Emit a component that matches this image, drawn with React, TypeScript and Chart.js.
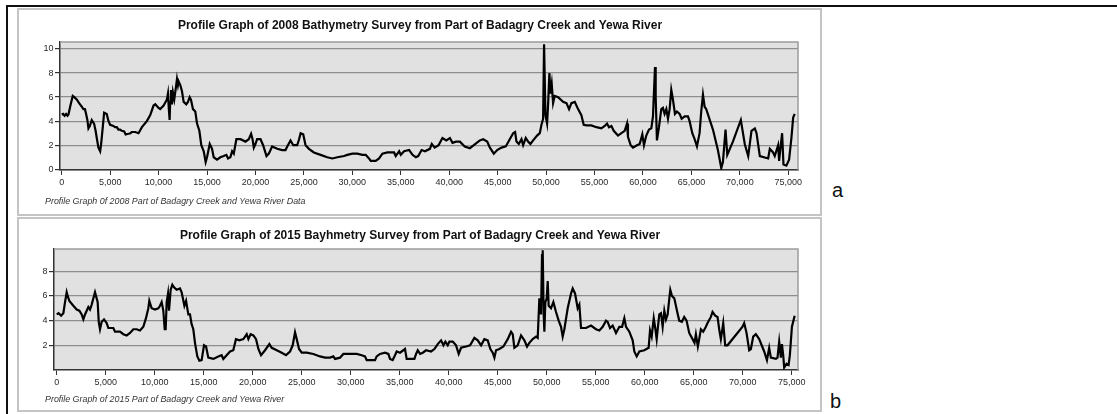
import React, { useEffect, useRef } from "react";
import { Chart, registerables } from "chart.js";

Chart.register(...registerables);

// Along-channel distance (m) and depth (m) for the 2008 survey profile
const DIST_2008 = [
  0, 150, 300, 450, 600, 700, 900, 1140, 1300, 1550, 1800, 2070, 2240, 2400, 2520, 2650, 2760, 2900, 3100, 3340,
  3500, 3620, 3790, 3970, 4070, 4240, 4380, 4650, 4830, 5000, 5340, 5500, 5690, 5850, 6030, 6200, 6450, 6600, 6900, 7100,
  7240, 7590, 7930, 8280, 8790, 9140, 9480, 9660, 10000, 10170, 10520, 10860, 10970, 11060, 11140, 11200, 11280, 11380, 11480, 11620,
  11790, 11900, 12000, 12070, 12240, 12410, 12590, 12860, 13030, 13210, 13340, 13550, 13790, 13970, 14210, 14410, 14660, 14860, 15000, 15280,
  15520, 15690, 16030, 16380, 16720, 17000, 17170, 17410, 17590, 17760, 18030, 18450, 18970, 19310, 19550, 19700, 19830, 20000, 20170, 20520,
  20790, 21140, 21380, 21720, 22240, 22760, 23100, 23280, 23620, 23900, 24310, 24500, 24660, 24930, 25170, 25520, 26030, 26720, 27410, 27930,
  28450, 29140, 29480, 30000, 30520, 31030, 31380, 31720, 31900, 32410, 32760, 33100, 33620, 34310, 34480, 34830, 35000, 35340, 35860, 36210,
  36550, 36800, 37150, 37500, 38000, 38200, 38500, 38900, 39300, 39700, 40070, 40340, 40690, 41100, 41600, 42130, 42540, 43160, 43500, 43920,
  44200, 44600, 44950, 45400, 45840, 46250, 46600, 46800, 46940, 47180, 47460, 47630, 47900, 48140, 48380, 48660, 49070, 49350, 49520, 49690,
  49790, 49930, 50100, 50210, 50340, 50450, 50580, 50720, 50890, 51240, 51750, 52100, 52370, 52610, 52960, 53300, 53640, 53880, 54160, 54670,
  55190, 55700, 56050, 56290, 56490, 56740, 56980, 57420, 57770, 58110, 58350, 58450, 58730, 58970, 59380, 59660, 59930, 60100, 60340, 60620,
  60860, 61030, 61240, 61310, 61440, 61650, 61890, 62060, 62230, 62410, 62580, 62750, 62920, 63090, 63300, 63500, 63780, 63990, 64300, 64640,
  64810, 65090, 65330, 65570, 65840, 66010, 66190, 66360, 66530, 67220, 67730, 68080, 68250, 68520, 68700, 69280, 70100, 70516, 70860, 71200,
  71545, 71720, 72060, 72920, 73090, 73430, 73600, 73950, 74050, 74360, 74500, 74800, 75080, 75320, 75500, 75660,
];
const DEPTH_2008 = [
  4.55, 4.6, 4.45, 4.6, 4.45, 4.55, 5.3, 6.1, 6.0, 5.8, 5.5, 5.2, 5.0, 5.0, 4.6, 4.1, 3.4, 3.6, 4.1, 3.8,
  3.2, 2.6, 1.8, 1.5, 2.1, 3.5, 4.7, 4.6, 4.0, 3.7, 3.6, 3.5, 3.5, 3.3, 3.3, 3.2, 3.15, 2.9, 2.95, 3.0,
  3.1, 3.1, 3.0, 3.5, 4.0, 4.5, 5.3, 5.4, 5.1, 5.0, 5.3, 5.8, 6.3, 5.0, 4.1, 5.6, 6.6, 5.4, 6.4, 5.8,
  6.8, 7.5, 7.0, 7.3, 7.0, 6.5, 5.6, 5.4, 5.6, 6.0, 5.8, 5.0, 4.8, 3.8, 3.2, 2.0, 1.5, 0.6, 1.0, 2.1,
  1.7, 1.0, 0.8, 1.0, 1.1, 1.2, 0.9, 1.0, 1.5, 1.3, 2.5, 2.5, 2.3, 2.5, 2.95, 2.5, 1.8, 2.1, 2.5, 2.5,
  2.0, 1.1, 1.3, 1.9, 1.7, 1.6, 1.6, 1.9, 2.4, 2.0, 2.0, 2.5, 3.0, 2.9, 2.0, 1.7, 1.4, 1.2, 1.0, 0.9,
  1.0, 1.1, 1.2, 1.3, 1.3, 1.2, 1.2, 0.9, 0.7, 0.7, 0.9, 1.3, 1.4, 1.4, 1.1, 1.5, 1.2, 1.5, 1.6, 1.2,
  1.0, 1.1, 1.6, 1.5, 1.7, 2.1, 1.8, 2.0, 2.6, 2.4, 2.6, 2.2, 2.3, 2.3, 1.9, 1.75, 2.0, 2.4, 2.5, 2.3,
  1.8, 1.3, 1.6, 1.8, 1.9, 2.5, 3.0, 3.1, 2.3, 2.1, 2.5, 2.0, 2.6, 2.3, 2.1, 2.4, 2.8, 3.0, 3.7, 4.2,
  10.4, 4.5, 3.8, 5.5, 8.0, 6.3, 7.1, 5.5, 6.1, 6.0, 5.6, 5.5, 5.0, 5.5, 5.6, 5.0, 4.5, 3.7, 3.65, 3.65,
  3.5, 3.4, 3.6, 3.8, 3.5, 3.6, 3.2, 2.8, 3.0, 3.2, 3.8, 2.7, 2.0, 1.8, 2.0, 2.1, 2.9, 2.0, 2.8, 3.3,
  3.4, 4.4, 8.5, 6.0, 2.4, 3.5, 5.0, 5.1, 4.6, 5.0, 4.2, 5.0, 6.6, 5.8, 4.6, 4.8, 4.6, 4.2, 4.4, 4.4,
  4.0, 3.0, 2.5, 1.9, 3.0, 4.8, 6.2, 5.2, 5.0, 3.3, 1.6, 0.1, 0.6, 3.3, 1.2, 2.3, 4.1, 2.05, 1.1, 3.2,
  3.4, 3.0, 1.1, 0.9, 1.7, 1.4, 1.1, 2.0, 0.7, 3.0, 0.4, 0.3, 0.8, 2.6, 4.3, 4.6,
];

// Along-channel distance (m) and depth (m) for the 2015 survey profile
const DIST_2015 = [
  0, 200, 450, 680, 850, 1020, 1120, 1290, 1700, 2040, 2310, 2550, 2720, 2890, 3230, 3400, 3570, 3740, 3910, 4080,
  4180, 4290, 4420, 4590, 4830, 5100, 5270, 5780, 5950, 6460, 6800, 7140, 7480, 7820, 8160, 8500, 8840, 9110, 9350, 9450,
  9690, 10030, 10370, 10540, 10710, 10880, 11020, 11120, 11220, 11360, 11460, 11630, 11800, 11970, 12240, 12580, 12750, 13030, 13200, 13430,
  13600, 13770, 13940, 14110, 14350, 14560, 14790, 15030, 15240, 15470, 15990, 16490, 16830, 17000, 17340, 17690, 18020, 18290, 18640, 19050,
  19390, 19560, 19790, 20070, 20340, 20580, 20850, 21260, 21700, 21940, 22450, 22960, 23400, 23810, 24080, 24320, 24490, 24730, 25000, 25510,
  26190, 26870, 27380, 27890, 28230, 28400, 28910, 29250, 29930, 30610, 31120, 31460, 31630, 32140, 32480, 32650, 32990, 33500, 33840, 34010,
  34280, 34520, 34690, 35030, 35370, 35540, 35710, 35990, 36500, 36670, 36840, 37080, 37350, 37690, 38200, 38540, 38880, 39220, 39460, 39660,
  39900, 40070, 40410, 40750, 41020, 41260, 41770, 42180, 42620, 42960, 43300, 43640, 43980, 44250, 44490, 44660, 44830, 45170, 45580, 46020,
  46360, 46530, 46700, 47040, 47380, 47720, 47990, 48230, 48570, 48910, 49080, 49180, 49250, 49420, 49520, 49590, 49690, 49760, 49860, 50000,
  50100, 50200, 50440, 50680, 50950, 51220, 51460, 51630, 51800, 52140, 52480, 52650, 52890, 53160, 53330, 53500, 54010, 54520, 55030, 55370,
  55710, 56050, 56220, 56460, 56730, 57070, 57410, 57690, 57920, 58090, 58430, 58770, 58940, 59180, 59450, 59960, 60400, 60540, 60710, 60920,
  61090, 61220, 61390, 61490, 61660, 61830, 62000, 62170, 62340, 62510, 62610, 62780, 63020, 63290, 63520, 63790, 64030, 64270, 64540, 64880,
  65080, 65220, 65420, 65560, 65730, 65970, 66240, 66410, 66750, 66920, 67190, 67430, 67600, 67770, 68010, 68210, 68450, 69980, 70150, 70390,
  70660, 70830, 71070, 71340, 71680, 72190, 72470, 72700, 72870, 73380, 73550, 73720, 73890, 74000, 74130, 74230, 74470, 74680, 74810, 75020,
  75300,
];
const DEPTH_2015 = [
  4.5, 4.6, 4.4, 4.6, 5.5, 6.3, 6.0, 5.6, 5.2, 4.9, 4.8, 4.5, 4.1, 4.5, 5.1, 4.9, 5.3, 5.8, 6.3, 5.8,
  5.5, 3.9, 3.3, 3.9, 4.1, 3.8, 3.4, 3.4, 3.1, 3.1, 2.9, 2.8, 3.0, 3.3, 3.3, 3.2, 3.5, 4.2, 5.0, 5.6,
  5.0, 4.9, 5.0, 5.2, 5.5, 4.8, 3.3, 3.3, 5.5, 6.2, 4.8, 6.5, 6.9, 6.7, 6.5, 6.6, 6.3, 5.2, 5.6, 4.5,
  4.5, 3.7, 3.3, 2.2, 1.1, 0.75, 0.8, 2.0, 1.9, 1.0, 0.9, 1.1, 1.2, 0.9, 1.2, 1.5, 1.6, 2.5, 2.4, 2.5,
  2.9, 2.5, 2.9, 2.8, 2.5, 1.7, 1.2, 1.6, 2.1, 1.8, 1.6, 1.4, 1.2, 1.5, 2.0, 3.05, 2.5, 1.7, 1.4, 1.4,
  1.3, 1.1, 1.0, 1.0, 1.1, 0.9, 1.0, 1.3, 1.3, 1.3, 1.2, 1.1, 0.8, 0.8, 0.8, 1.1, 1.3, 1.4, 1.3, 0.9,
  0.8, 1.2, 1.5, 1.4, 1.6, 1.7, 0.9, 0.9, 0.9, 1.3, 1.6, 1.3, 1.4, 1.6, 1.5, 1.7, 2.1, 2.4, 2.0, 2.3,
  2.0, 2.3, 2.3, 2.0, 1.3, 1.8, 1.9, 2.0, 2.6, 2.4, 2.0, 2.5, 2.4, 1.7, 1.4, 1.0, 1.6, 1.7, 1.9, 2.5,
  3.1, 2.9, 1.8, 2.0, 2.8, 2.4, 1.9, 2.2, 2.5, 2.7, 2.6, 4.5, 5.8, 4.5, 9.3, 9.7, 4.5, 3.1, 5.5, 5.8,
  7.2, 5.2, 5.0, 5.5, 4.7, 4.0, 3.5, 2.7, 3.3, 5.0, 6.2, 6.6, 6.2, 5.0, 5.3, 3.4, 3.4, 3.6, 3.3, 3.2,
  3.5, 4.0, 3.9, 3.4, 3.6, 3.0, 3.5, 3.5, 4.2, 3.5, 3.1, 2.4, 1.5, 1.1, 1.5, 1.6, 1.8, 3.2, 2.7, 4.2,
  3.3, 2.5, 3.8, 4.5, 4.6, 3.5, 4.8, 4.1, 4.5, 5.8, 6.5, 6.0, 5.8, 4.8, 4.0, 3.9, 4.3, 4.0, 3.0, 2.5,
  2.2, 2.9, 1.9, 2.5, 3.3, 3.1, 3.5, 3.8, 4.3, 4.7, 4.4, 4.3, 3.3, 2.5, 3.8, 2.0, 2.0, 3.5, 3.8, 3.0,
  1.6, 1.7, 2.7, 2.9, 2.5, 1.5, 0.8, 1.8, 1.0, 0.9, 1.0, 2.3, 1.0, 2.1, 1.2, 0.2, 0.5, 0.4, 1.2, 3.5,
  4.4,
];

const X_TICKS = [0, 5000, 10000, 15000, 20000, 25000, 30000, 35000, 40000, 45000, 50000, 55000, 60000, 65000, 70000, 75000];
const Y_TICKS_2008 = [0, 2, 4, 6, 8, 10];
const Y_TICKS_2015 = [2, 4, 6, 8];

const FONT = "'Liberation Sans', Arial, Helvetica, sans-serif";
const TICK_FONT = "'Liberation Sans Narrow', 'Arial Narrow', 'Liberation Sans', Arial, sans-serif";

// Grey plot background plus the light top/right edges of the plot box
const plotFrame = {
  id: "plotFrame",
  beforeDraw(chart: any) {
    const { ctx, chartArea } = chart;
    const { left, top, right, bottom } = chartArea;
    ctx.save();
    ctx.fillStyle = "#e1e1e1";
    ctx.fillRect(left, top, right - left, bottom - top);
    ctx.restore();
  },
  afterDraw(chart: any) {
    const { ctx, chartArea } = chart;
    const { left, top, right, bottom } = chartArea;
    ctx.save();
    ctx.strokeStyle = "#9c9c9c";
    ctx.lineWidth = 1.5;
    ctx.beginPath();
    ctx.moveTo(left, top);
    ctx.lineTo(right, top);
    ctx.lineTo(right, bottom);
    ctx.stroke();
    ctx.restore();
  },
};

// Heading above the plot and italic caption underneath it
const panelText = {
  id: "panelText",
  afterDraw(chart: any, _args: any, opts: any) {
    const { ctx } = chart;
    ctx.save();
    ctx.fillStyle = "#111";
    ctx.font = `bold 12px ${FONT}`;
    ctx.textAlign = "center";
    ctx.textBaseline = "alphabetic";
    ctx.fillText(opts.title, opts.titleX, opts.titleY);
    ctx.font = `italic 8.9px ${FONT}`;
    ctx.fillStyle = "#333";
    ctx.textAlign = "left";
    ctx.fillText(opts.footer, opts.footerX, opts.footerY);
    ctx.restore();
  },
};

type PanelProps = {
  dist: number[];
  depth: number[];
  yTicks: number[];
  xMin: number;
  xMax: number;
  yMin: number;
  yMax: number;
  width: number;
  height: number;
  axisW: number;
  axisH: number;
  padTop: number;
  padRight: number;
  title: string;
  footer: string;
  titleY: number;
  footerY: number;
};

function ProfilePanel(p: PanelProps) {
  const ref = useRef<HTMLCanvasElement | null>(null);

  useEffect(() => {
    if (!ref.current) return;
    const points = p.dist.map((d, i) => ({ x: d, y: p.depth[i] }));
    const chart = new Chart(ref.current, {
      type: "line",
      data: {
        datasets: [
          {
            data: points,
            borderColor: "#000",
            borderWidth: 2.2,
            pointRadius: 0,
            tension: 0,
            fill: false,
          },
        ],
      },
      options: {
        animation: false,
        responsive: false,
        events: [],
        layout: { padding: { top: p.padTop, right: p.padRight, bottom: 0, left: 0 } },
        plugins: {
          legend: { display: false },
          tooltip: { enabled: false },
          title: { display: false },
          panelText: {
            title: p.title,
            footer: p.footer,
            titleX: 403,
            titleY: p.titleY,
            footerX: 28,
            footerY: p.footerY,
          },
        } as any,
        scales: {
          x: {
            type: "linear",
            min: p.xMin,
            max: p.xMax,
            afterBuildTicks: (s: any) => {
              s.ticks = X_TICKS.map((v) => ({ value: v }));
            },
            afterFit: (s: any) => {
              s.height = p.axisH;
            },
            ticks: {
              autoSkip: false,
              maxRotation: 0,
              padding: 2,
              color: "#2a2a2a",
              font: { family: TICK_FONT, size: 9 },
              callback: (v: any) => Number(v).toLocaleString("en-US"),
            },
            grid: { drawOnChartArea: false, drawTicks: true, tickLength: 5, color: "#333", lineWidth: 1 },
            border: { color: "#333", width: 1.5 },
          },
          y: {
            type: "linear",
            min: p.yMin,
            max: p.yMax,
            afterBuildTicks: (s: any) => {
              s.ticks = p.yTicks.map((v) => ({ value: v }));
            },
            afterFit: (s: any) => {
              s.width = p.axisW;
            },
            ticks: {
              padding: 1.5,
              color: "#2a2a2a",
              font: { family: TICK_FONT, size: 9 },
              callback: (v: any) => String(v),
            },
            grid: { color: "#8e8e8e", tickColor: "#333", tickLength: 5, lineWidth: 1.2 },
            border: { color: "#333", width: 1.5 },
          },
        },
      },
      plugins: [plotFrame, panelText],
    });
    return () => chart.destroy();
  }, []);

  return (
    <canvas
      ref={ref}
      width={p.width}
      height={p.height}
      style={{ position: "absolute", left: 0, top: 0, width: p.width, height: p.height }}
    />
  );
}

const boxStyle = (top: number, height: number): React.CSSProperties => ({
  position: "absolute",
  left: 17,
  top,
  width: 805,
  height,
  boxSizing: "border-box",
  border: "2px solid #c4c4c4",
});

const letterStyle = (left: number, top: number): React.CSSProperties => ({
  position: "absolute",
  left,
  top,
  fontFamily: FONT,
  fontSize: 20,
  lineHeight: "20px",
  color: "#111",
});

export default function App() {
  return (
    <div
      style={{
        position: "absolute",
        left: 0,
        top: 0,
        width: 1117,
        height: 414,
        background: "#fff",
        overflow: "hidden",
      }}
    >
      <div style={{ position: "absolute", left: 6, top: 5, width: 1111, height: 1.5, background: "#111" }} />
      <div style={{ position: "absolute", left: 6, top: 5, width: 1.5, height: 409, background: "#111" }} />

      <div style={boxStyle(8, 208)} />
      <div style={{ position: "absolute", left: 17, top: 8, width: 805, height: 208 }}>
        <ProfilePanel
          dist={DIST_2008}
          depth={DEPTH_2008}
          yTicks={Y_TICKS_2008}
          xMin={-175}
          xMax={76000}
          yMin={-0.06}
          yMax={10.58}
          width={805}
          height={208}
          axisW={43}
          axisH={46}
          padTop={34}
          padRight={24}
          title="Profile Graph of 2008 Bathymetry Survey from Part of Badagry Creek and Yewa River"
          footer="Profile Graph 0f 2008 Part of Badagry Creek and Yewa River Data"
          titleY={21.3}
          footerY={196}
        />
      </div>

      <div style={boxStyle(217, 195)} />
      <div style={{ position: "absolute", left: 17, top: 217, width: 805, height: 195 }}>
        <ProfilePanel
          dist={DIST_2015}
          depth={DEPTH_2015}
          yTicks={Y_TICKS_2015}
          xMin={-275}
          xMax={75640}
          yMin={0}
          yMax={9.8}
          width={805}
          height={195}
          axisW={37}
          axisH={42}
          padTop={32}
          padRight={24}
          title="Profile Graph of 2015 Bayhmetry Survey from Part of Badagry Creek and Yewa River"
          footer="Profile Graph of 2015 Part of Badagry Creek and Yewa River"
          titleY={22}
          footerY={185.3}
        />
      </div>

      <span style={letterStyle(832, 180)}>a</span>
      <span style={letterStyle(830, 391)}>b</span>
    </div>
  );
}
